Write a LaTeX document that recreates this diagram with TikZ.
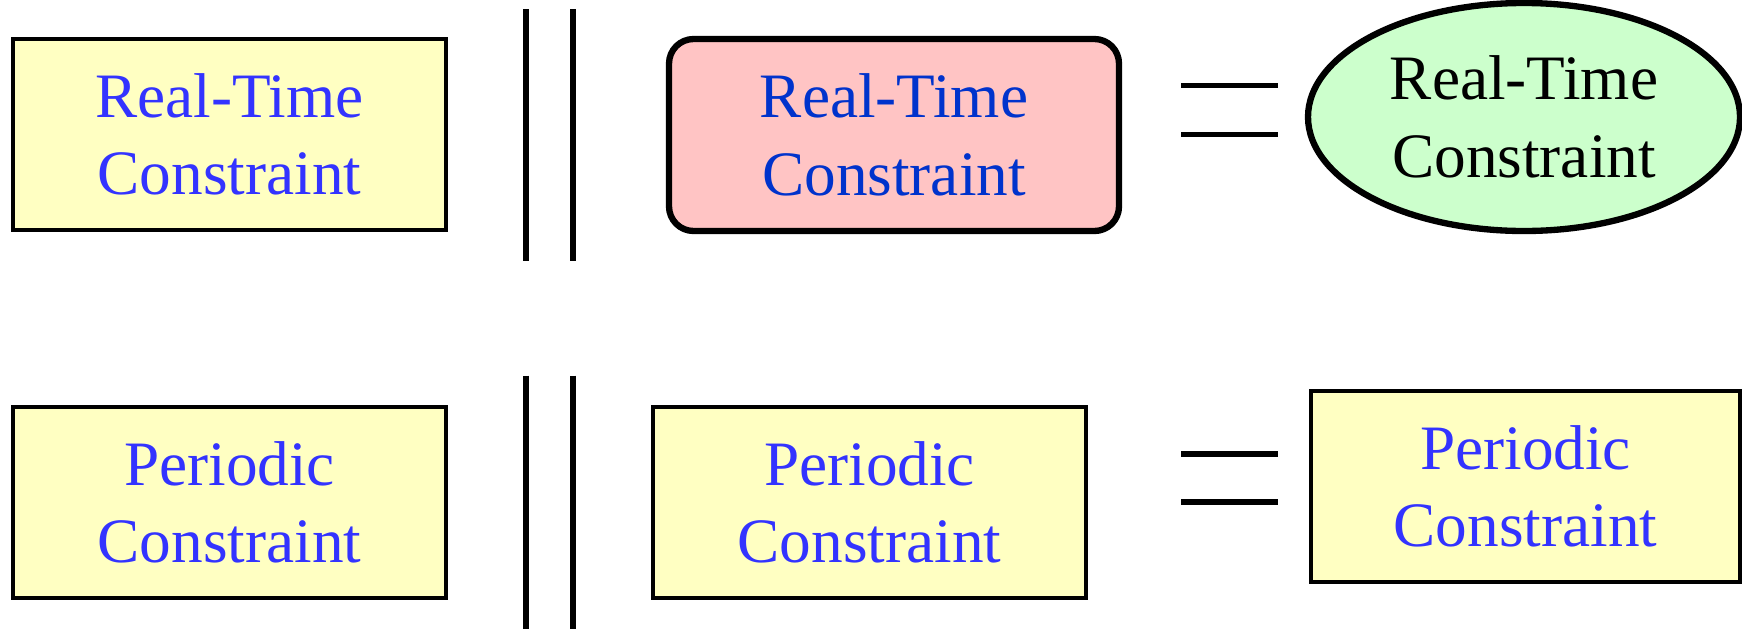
\documentclass[tikz,border=0pt]{standalone}
\usepackage{fontspec}
\setmainfont{Liberation Serif}
\usetikzlibrary{shapes.geometric}
\definecolor{RtYellow}{HTML}{FFFFC2}
\definecolor{RtBlue}{HTML}{3333FF}
\definecolor{RtDeepBlue}{HTML}{0033CC}
\definecolor{RtPink}{HTML}{FFC4C4}
\definecolor{RtGreen}{HTML}{CCFFCC}
\tikzset{
  constraint/.style={draw=black,line width=1.1pt,fill=RtYellow,text=RtBlue,align=center,
    minimum width=4.33cm,minimum height=1.91cm,inner sep=0pt,font=\fontsize{18}{22}\selectfont},
  merged/.style={constraint,rounded corners=7pt,line width=1.8pt,fill=RtPink,text=RtDeepBlue,
    minimum width=4.5cm,minimum height=1.92cm},
  result/.style={constraint,ellipse,line width=1.8pt,fill=RtGreen,text=black,
    minimum width=4.32cm,minimum height=2.28cm},
  bar/.style={line width=1.7pt},
  equal/.style={line width=1.5pt}
}

\begin{document}
\begin{tikzpicture}
  \useasboundingbox (0,0) rectangle (17.42,-6.29);
  % top row
  \node[constraint] (rtA) at (2.295,-1.345) {Real-Time\\Constraint};
  \node[merged] (rtB) at (8.94,-1.35) {Real-Time\\Constraint};
  \node[result] (rtC) at (15.24,-1.17) {Real-Time\\Constraint};
  % bottom row
  \node[constraint] (perA) at (2.295,-5.025) {Periodic\\Constraint};
  \node[constraint] (perB) at (8.695,-5.025) {Periodic\\Constraint};
  \node[constraint,minimum width=4.29cm] (perC) at (15.255,-4.865) {Periodic\\Constraint};
  % parallel bars
  \draw[bar] (5.255,-0.09)--(5.255,-2.61); \draw[bar] (5.73,-0.09)--(5.73,-2.61);
  \draw[bar] (5.255,-3.755)--(5.255,-6.29); \draw[bar] (5.73,-3.755)--(5.73,-6.29);
  % equals signs
  \draw[equal] (11.81,-0.855)--(12.78,-0.855); \draw[equal] (11.81,-1.345)--(12.78,-1.345);
  \draw[equal] (11.81,-4.54)--(12.78,-4.54); \draw[equal] (11.81,-5.02)--(12.78,-5.02);
\end{tikzpicture}
\end{document}
